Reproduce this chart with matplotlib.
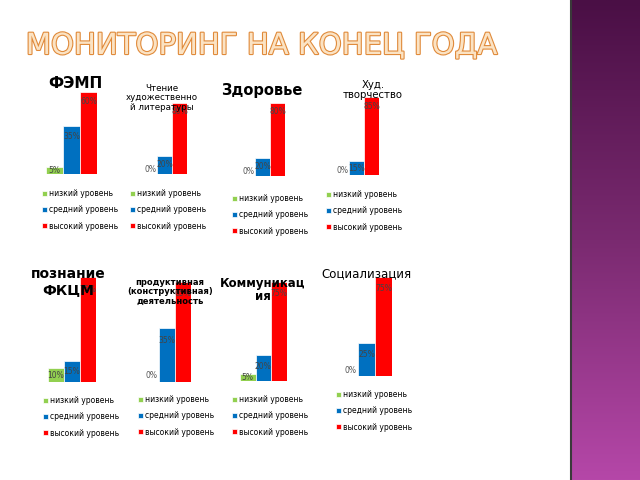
import matplotlib
matplotlib.use("Agg")
import matplotlib.pyplot as plt
import matplotlib.patheffects as pe
import numpy as np
from matplotlib.colors import LinearSegmentedColormap

titles = ["ФЭМП", "Чтение\nхудожественно\nй литературы", "Здоровье", "Худ.\nтворчество",
          "познание\nФКЦМ", "продуктивная\n(конструктивная)\nдеятельность", "Коммуникац\nия", "Социализация"]
low = [5, 0, 0, 0, 10, 0, 5, 0]
mid = [35, 20, 20, 15, 15, 35, 20, 25]
high = [60, 80, 80, 85, 75, 65, 75, 75]
levels = ["низкий уровень", "средний уровень", "высокий уровень"]
colors = ["#92d050", "#0070c0", "#ff0000"]

W, H = 640, 480
fig = plt.figure(figsize=(6.4, 4.8), dpi=100)
fig.patch.set_facecolor("white")

bg = fig.add_axes([572 / W, 0, 68 / W, 1])
grad = np.linspace(0, 1, 256).reshape(-1, 1)
cm = LinearSegmentedColormap.from_list("p", ["#4a0f45", "#7a2a70", "#b547a8"])
bg.imshow(grad, aspect="auto", cmap=cm, extent=[0, 1, 0, 1], origin="upper")
bg.axis("off")
fig.add_artist(plt.Line2D([571 / W, 571 / W], [0, 1], color="#3a3a3a", lw=1.5))

fig.text(261 / W, 1 - 46 / H, "МОНИТОРИНГ НА КОНЕЦ ГОДА", ha="center", va="center",
         fontsize=21, family="DejaVu Sans",
         color="#fbe3c4", path_effects=[pe.withStroke(linewidth=1.6, foreground="#e08a3a")])

geo = [(46, 174, 82, 17), (142, 174, 71, 15), (240, 176, 73, 15), (334, 175, 78, 15),
       (48, 382, 105, 16), (143, 382, 100, 16), (240, 381, 99, 15.5), (341, 376, 99, 17)]
title_pos = [(75, 84, 11, "bold"), (162, 98, 6.3, "normal"), (262, 91, 10.5, "bold"), (373, 90, 7.3, "normal"),
             (68, 282, 10, "bold"), (170, 292, 6.0, "bold"), (263, 290, 8.5, "bold"), (366, 274, 8.5, "normal")]
leg_pos = [(42, 189), (130, 189), (232, 194), (326, 190), (43, 396), (138, 395), (232, 395), (336, 390)]

for i in range(8):
    x0, yb, hp, bw = geo[i]
    ax = fig.add_axes([x0 / W, 1 - yb / H, 3 * bw / W, hp / H])
    vals = [low[i], mid[i], high[i]]
    bars = ax.bar(range(3), vals, width=1.0, color=colors, edgecolor="white", linewidth=0.5)
    ax.set_xlim(-0.5, 2.5)
    ax.set_ylim(0, high[i])
    ax.axis("off")
    for j, v in enumerate(vals):
        if v == 0:
            ax.text(j + 0.05, high[i] * 0.06, "0%", ha="center", va="center", fontsize=5.5, color="#555555")
        else:
            y = v - high[i] * 0.12 if v > high[i] * 0.2 else v / 2
            ax.text(j, y, f"{v}%", ha="center", va="center", fontsize=5.5, color="#444444")
    tx, ty, fs, fw = title_pos[i]
    fig.text(tx / W, 1 - ty / H, titles[i], ha="center", va="center", fontsize=fs, fontweight=fw,
             linespacing=1.1, color="black")
    lx, ly = leg_pos[i]
    ax.legend(bars, levels, loc="upper left", bbox_to_anchor=(lx / W, 1 - ly / H),
              bbox_transform=fig.transFigure, frameon=False, fontsize=5.5, handlelength=0.6,
              handleheight=0.6, labelspacing=0.95, borderpad=0, handletextpad=0.3, borderaxespad=0)

fig.savefig("out.png", dpi=100)
